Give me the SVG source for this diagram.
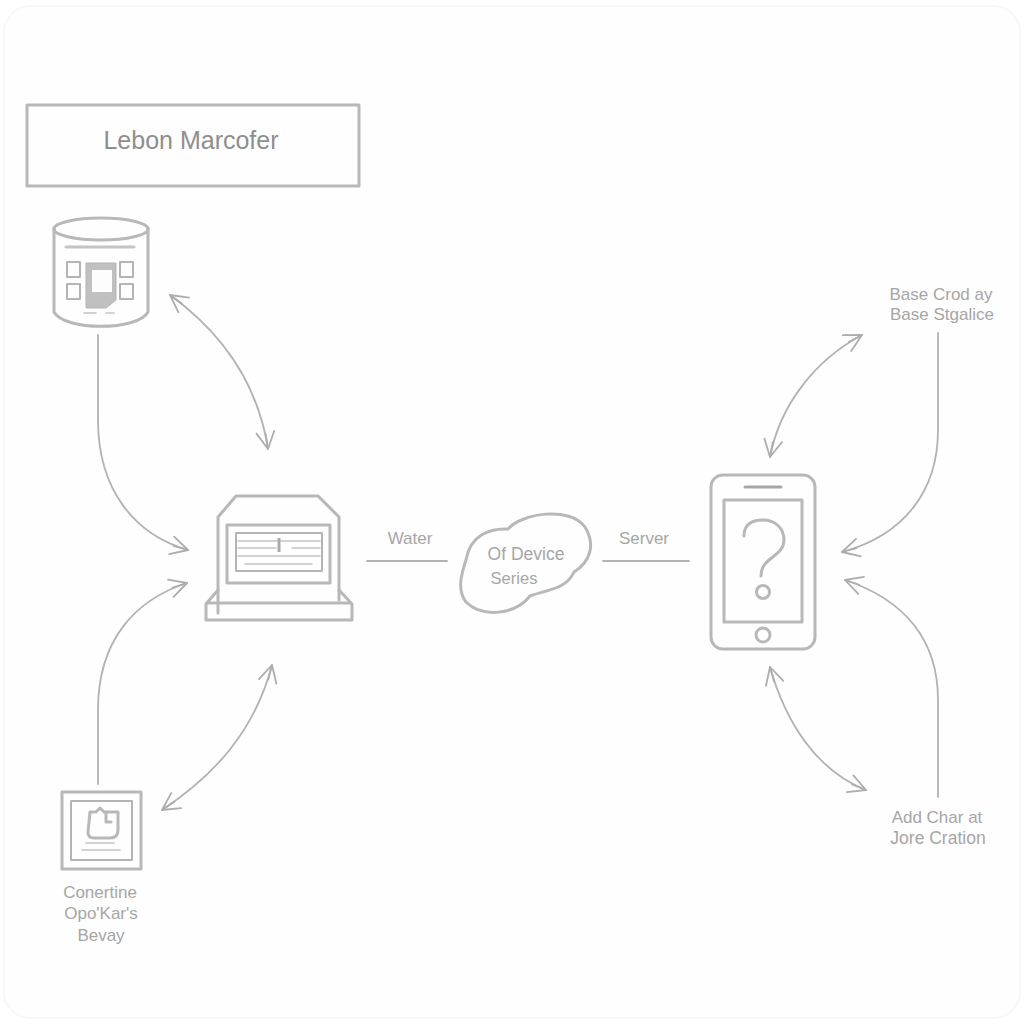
<svg xmlns="http://www.w3.org/2000/svg" width="1024" height="1024" viewBox="0 0 1024 1024">
  <style>
    .line { fill: none; stroke: #b4b4b4; stroke-width: 2; stroke-linejoin: round; stroke-linecap: round; }
    .thick { fill: none; stroke: #b8b8b8; stroke-width: 3; stroke-linejoin: round; stroke-linecap: round; }
    .thin { fill: none; stroke: #c4c4c4; stroke-width: 1.5; stroke-linecap: round; }
    .conn { fill: none; stroke: #b2b2b2; stroke-width: 1.8; stroke-linecap: round; }
    .both { marker-start: url(#tip); marker-end: url(#tip); }
    .one { marker-end: url(#tip); }
    text { font-family: "Liberation Sans", Arial, sans-serif; fill: #a6a6a6; font-size: 17px; text-anchor: middle; }
  </style>
  <defs>
    <marker id="tip" viewBox="-20 -12 24 24" refX="0" refY="0" markerWidth="24" markerHeight="24" markerUnits="userSpaceOnUse" orient="auto-start-reverse">
      <path d="M-17 -9 L0 0 L-17 9 M0 0 L-15 0" fill="none" stroke="#adadad" stroke-width="1.8" stroke-linecap="round" stroke-linejoin="round"/>
    </marker>
  </defs>

  <rect width="1024" height="1024" fill="#ffffff"/>
  <rect x="4" y="6" width="1016" height="1012" rx="26" fill="#fefefe" stroke="#f8f8f8" stroke-width="2"/>

  <g id="title-box">
    <rect x="27" y="105" width="332" height="81" class="thick"/>
    <text x="191" y="149" style="font-size:25px;fill:#8e8e8e">Lebon Marcofer</text>
  </g>

  <g id="database">
    <path class="thick" d="M54 228 V312 C64 331 138 331 148 312 V228"/>
    <ellipse cx="101" cy="229" rx="47" ry="11" class="thick"/>
    <path class="thin" style="stroke-width:3" d="M66 247 H134"/>
    <rect x="67" y="262" width="13" height="15" class="line"/>
    <rect x="67" y="284" width="13" height="15" class="line"/>
    <rect x="120" y="262" width="13" height="15" class="line"/>
    <rect x="120" y="284" width="13" height="15" class="line"/>
    <path d="M86 263 H116 V300 L106 308 H86 Z" fill="#c0c0c0" stroke="#b4b4b4"/>
    <rect x="92" y="270" width="20" height="22" fill="#fdfdfd"/>
    <path class="thin" d="M84 313 H96 M106 313 H114"/>
  </g>

  <g id="terminal">
    <path class="thick" d="M218 613 V517 L236 496 H318 L339 517 V600"/>
    <path class="thick" d="M218 590 L206 604 V620 H352 V604 L339 590"/>
    <path class="thick" d="M207 603 H351"/>
    <rect x="227" y="525" width="103" height="58" class="thick"/>
    <rect x="236" y="533" width="86" height="38" class="line"/>
    <path class="thin" d="M238 541 H320 M238 548 H276 M292 548 H320 M238 556 H320 M245 564 H312"/>
    <path d="M279 538 V552" stroke="#aaa" stroke-width="3"/>
  </g>

  <g id="cloud">
    <path class="thick" d="M466 560 C470 535 490 528 508 529 C522 513 570 506 585 527 C596 545 590 562 574 572 C566 590 545 590 530 596 C515 615 482 618 466 602 C457 590 461 575 466 560 Z"/>
    <text x="526" y="560" style="font-size:17.5px">Of Device</text>
    <text x="514" y="584" style="font-size:16.5px">Series</text>
  </g>

  <g id="phone">
    <rect x="711" y="475" width="104" height="174" rx="12" class="thick"/>
    <path d="M745 487 H781" stroke="#a6a6a6" stroke-width="3" stroke-linecap="round"/>
    <rect x="724" y="500" width="78" height="122" class="thick"/>
    <path class="thick" d="M744 536 C744 522 755 520 763 520 C775 520 784 528 784 540 C784 552 772 556 765 564 C761 569 761 573 761 576"/>
    <circle cx="763" cy="592" r="6.5" class="thick"/>
    <circle cx="763" cy="635" r="7" class="thick"/>
  </g>

  <g id="chip">
    <rect x="62" y="792" width="79" height="77" class="thick"/>
    <rect x="71" y="801" width="61" height="59" class="line"/>
    <path class="thick" d="M90 812 L88 832 Q88 838 94 838 H110 Q118 838 118 830 V812 H104 L100 808 L96 812 Z M106 812 V822 H111"/>
    <path class="thin" d="M86 843 H114 M82 850 H120"/>
  </g>

  <g id="label-chip">
    <text x="100" y="898" style="font-size:17px">Conertine</text>
    <text x="101" y="919" style="font-size:17px">Opo'Kar's</text>
    <text x="101" y="941" style="font-size:17px">Bevay</text>
  </g>

  <g id="label-base">
    <text x="941" y="300" style="font-size:17px">Base Crod ay</text>
    <text x="942" y="320" style="font-size:17px">Base Stgalice</text>
  </g>

  <g id="label-add">
    <text x="937" y="823" style="font-size:17px">Add Char at</text>
    <text x="938" y="844" style="font-size:17.5px">Jore Cration</text>
  </g>

  <g id="edge-labels">
    <text x="410" y="544" style="font-size:17px">Water</text>
    <text x="644" y="544" style="font-size:17px">Server</text>
  </g>

  <g id="connectors">
    <path class="conn one" d="M98 335 V420 C98 490 135 535 188 550"/>
    <path class="conn both" d="M170 295 C225 335 258 385 268 449"/>
    <path class="conn one" d="M98 784 V710 C98 640 135 600 187 583"/>
    <path class="conn both" d="M162 810 C215 775 255 730 272 665"/>
    <path class="conn" d="M367 561 H447"/>
    <path class="conn" d="M603 561 H689"/>
    <path class="conn both" d="M862 335 C815 360 780 405 770 457"/>
    <path class="conn one" d="M938 333 V430 C938 490 905 535 842 552"/>
    <path class="conn both" d="M770 667 C785 720 815 770 866 790"/>
    <path class="conn one" d="M938 797 V700 C938 640 905 600 845 580"/>
  </g>
</svg>
